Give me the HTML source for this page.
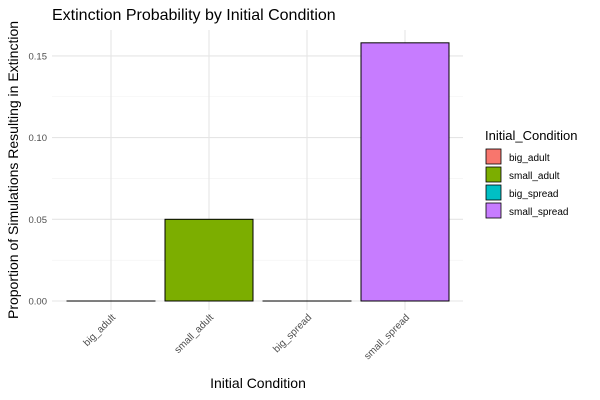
<!DOCTYPE html>
<html><head><meta charset="utf-8"><style>
body{margin:0;background:#fff;}
svg{font-family:"Liberation Sans",sans-serif;display:block;}
</style></head><body>
<svg id="c" width="600" height="400">
<text x="52" y="20" font-size="16" fill="#000">Extinction Probability by Initial Condition</text>
<g id="grid"></g><g id="bars"></g><g id="axes"></g>
<text transform="translate(18,170) rotate(-90)" text-anchor="middle" font-size="14" fill="#000">Proportion of Simulations Resulting in Extinction</text>
<text x="258" y="388" text-anchor="middle" font-size="14" fill="#000">Initial Condition</text>
<g id="legend"></g>
</svg>
<script>
const categories=["big_adult","small_adult","big_spread","small_spread"];
const values=[0,0.05,0,0.158];
const colors=["#F8766D","#7CAE00","#00BFC4","#C77CFF"];
const yTicks=[0,0.05,0.10,0.15];
const yTickLabels=["0.00","0.05","0.10","0.15"];
const NS="http://www.w3.org/2000/svg";
const L=52,R=463,T=30,B=310;
function y(v){return 301-v/0.05*81.7;}
function xc(i){return 111+i*98;}
const bw=88;
function mk(p,tag,a){const e=document.createElementNS(NS,tag);for(const k in a)e.setAttribute(k,a[k]);document.getElementById(p).appendChild(e);return e;}
for(let i=0;i<yTicks.length;i++){
  if(i<yTicks.length-1){const m=mk('grid','line',{x1:L,x2:R,y1:y(yTicks[i]+0.025),y2:y(yTicks[i]+0.025),stroke:'#f2f2f2','stroke-width':0.6});
  
  }
  const g=mk('grid','line',{x1:L,x2:R,y1:y(yTicks[i]),y2:y(yTicks[i]),stroke:'#e5e5e5','stroke-width':1.1});
  
  
  const t=mk('axes','text',{x:47,y:y(yTicks[i])+3.5,'text-anchor':'end','font-size':9.5,fill:'#4d4d4d'});
  t.textContent=yTickLabels[i];
  
  
}
categories.forEach((c,i)=>{
  const g=mk('grid','line',{x1:xc(i),x2:xc(i),y1:T,y2:B,stroke:'#e5e5e5','stroke-width':1.1});
  
  
  const h=Math.max(y(0)-y(values[i]),0.01);
  const b=mk('bars','rect',{x:xc(i)-bw/2,y:y(values[i]),width:bw,height:h,fill:colors[i],stroke:'#000','stroke-width':1});
  
  
  const t=mk('axes','text',{transform:`translate(${xc(i)+5},${318}) rotate(-45)`,'text-anchor':'end','font-size':10,fill:'#4d4d4d'});
  t.textContent=c;
  
  
  const r=mk('legend','rect',{x:486,y:149+i*18,width:15,height:15,fill:colors[i],stroke:'#000','stroke-width':0.8});
  
  
  const lt=mk('legend','text',{x:509,y:161+i*18,'font-size':10,fill:'#000'});
  lt.textContent=c;
  
  
});
const lg=mk('legend','text',{x:485,y:140,'font-size':13,fill:'#000'});
lg.textContent='Initial_Condition';


</script>
</body></html>
